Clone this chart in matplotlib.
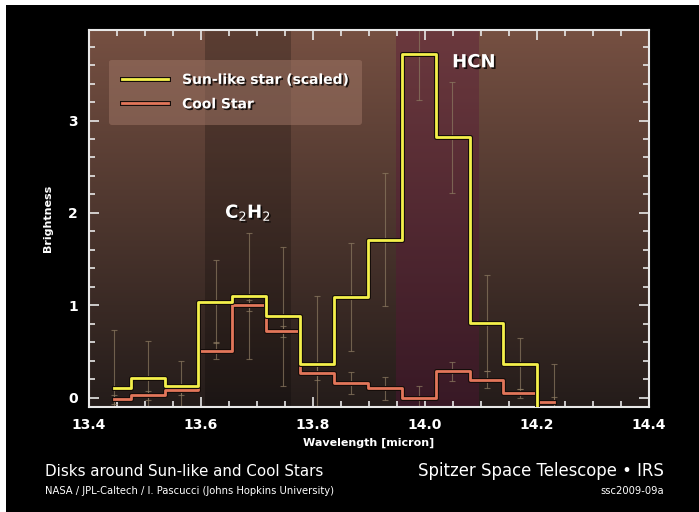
import numpy as np
import matplotlib
matplotlib.use("Agg")
import matplotlib.pyplot as plt
import matplotlib.patheffects as pe
from matplotlib.patches import Rectangle
from matplotlib.ticker import MultipleLocator

# wavelength of each spectral point (micron)
wave = [13.444, 13.505, 13.565, 13.626, 13.686, 13.747, 13.807,
        13.868, 13.929, 13.989, 14.049, 14.110, 14.170, 14.231]
# Sun-like star (scaled)
sun = [0.105, 0.21, 0.13, 1.04, 1.10, 0.88, 0.36,
       1.09, 1.71, 3.72, 2.82, 0.81, 0.37, -0.20]
sun_err = [0.63, 0.40, 0.27, 0.45, 0.68, 0.75, 0.74,
           0.58, 0.72, 0.50, 0.60, 0.52, 0.28, 0.57]
# Cool star
cool = [-0.015, 0.025, 0.08, 0.51, 1.00, 0.72, 0.27,
        0.16, 0.105, 0.0, 0.285, 0.195, 0.05, -0.047]
cool_err = [0.05, 0.05, 0.05, 0.09, 0.06, 0.06, 0.075,
            0.115, 0.125, 0.13, 0.105, 0.09, 0.05, 0.05]

c2h2_band = (13.607, 13.761)
hcn_band = (13.948, 14.097)

W, H = 699, 512
fig = plt.figure(figsize=(W/100, H/100), dpi=100, facecolor="white")
fig.patches.append(Rectangle((6/W, 0), 1, (H-5)/H, transform=fig.transFigure,
                             facecolor="black", edgecolor="none", zorder=-10))

ax = fig.add_axes([89/W, (H-407)/H, (649-89)/W, (407-29.5)/H])
ax.set_xlim(13.4, 14.4)
ax.set_ylim(-0.1, 3.985)

# background gradient (brown at top, dark at bottom)
top = np.array([118, 80, 66]) / 255.
bot = np.array([36, 28, 26]) / 255.
t = np.linspace(0, 1, 256)[:, None]
grad = (top * (1 - t) + bot * t)[:, None, :].repeat(2, axis=1)
ax.imshow(grad, extent=[13.4, 14.4, -0.1, 3.985], aspect="auto", zorder=0)

ax.axvspan(*c2h2_band, color="black", alpha=0.22, lw=0, zorder=1)
ax.axvspan(*hcn_band, color="#5a1438", alpha=0.38, lw=0, zorder=1)

ebc = (0.55, 0.48, 0.38)
ax.errorbar(wave, sun, yerr=sun_err, fmt="none", ecolor=ebc, elinewidth=0.8,
            capsize=2.5, capthick=0.8, alpha=0.7, zorder=2)
ax.errorbar(wave, cool, yerr=cool_err, fmt="none", ecolor=ebc, elinewidth=0.8,
            capsize=2.5, capthick=0.8, alpha=0.7, zorder=2)

outline = [pe.Stroke(linewidth=3.6, foreground="#150d0a"), pe.Normal()]
ax.plot(wave, cool, drawstyle="steps-mid", color="#e2765a", lw=2.0,
        path_effects=outline, zorder=3, label="Cool Star")
ax.plot(wave, sun, drawstyle="steps-mid", color="#f4f04a", lw=2.0,
        path_effects=outline, zorder=4, label="Sun-like star (scaled)")

shadow = [pe.SimplePatchShadow(offset=(1.2, -1.2), shadow_rgbFace="black", alpha=0.8),
          pe.Normal()]
ax.text(np.mean(c2h2_band), 2.0, "C$_2$H$_2$", color="white", fontsize=13,
        fontweight="bold", ha="center", va="center", path_effects=shadow, zorder=5)
ax.text(14.087, 3.63, "HCN", color="white", fontsize=13, fontweight="bold",
        ha="center", va="center", path_effects=shadow, zorder=5)

h, l = ax.get_legend_handles_labels()
leg = ax.legend(h[::-1], l[::-1], loc="upper left", bbox_to_anchor=(0.036, 0.92),
                borderaxespad=0, fancybox=True, framealpha=0.55,
                facecolor="#9a7262", edgecolor="none",
                handlelength=3.3, handletextpad=1.0, borderpad=0.95, labelspacing=0.75,
                prop={"weight": "bold", "size": 10})
leg.set_zorder(6)
for txt in leg.get_texts():
    txt.set_color("white")
    txt.set_path_effects(shadow)

# axes styling
for s in ax.spines.values():
    s.set_color("#e8e8e8")
    s.set_linewidth(1.5)
ax.xaxis.set_major_locator(MultipleLocator(0.2))
ax.xaxis.set_minor_locator(MultipleLocator(0.05))
ax.yaxis.set_major_locator(MultipleLocator(1))
ax.yaxis.set_minor_locator(MultipleLocator(0.2))
ax.tick_params(which="both", direction="in", top=True, right=True,
               colors="#e8e8e8", width=1.2)
ax.tick_params(which="major", length=7, labelsize=10, pad=8)
ax.tick_params(which="minor", length=4)
for lab in ax.get_xticklabels() + ax.get_yticklabels():
    lab.set_fontweight("bold")
    lab.set_color("white")

ax.set_xlabel("Wavelength [micron]", color="white", fontsize=8, fontweight="bold",
              labelpad=4)
ax.set_ylabel("Brightness", color="white", fontsize=8, fontweight="bold", labelpad=11)

fig.text(45/W, 1 - 471/H, "Disks around Sun-like and Cool Stars", color="white",
         fontsize=10.9, va="center", ha="left")
fig.text(45/W, 1 - 491/H, "NASA / JPL-Caltech / I. Pascucci (Johns Hopkins University)",
         color="white", fontsize=7.2, va="center", ha="left")
fig.text(664/W, 1 - 471/H, "Spitzer Space Telescope \u2022 IRS", color="white",
         fontsize=11.9, va="center", ha="right")
fig.text(664/W, 1 - 491/H, "ssc2009-09a", color="white", fontsize=7.2,
         va="center", ha="right")

fig.savefig("out.png", dpi=100, facecolor="white")
